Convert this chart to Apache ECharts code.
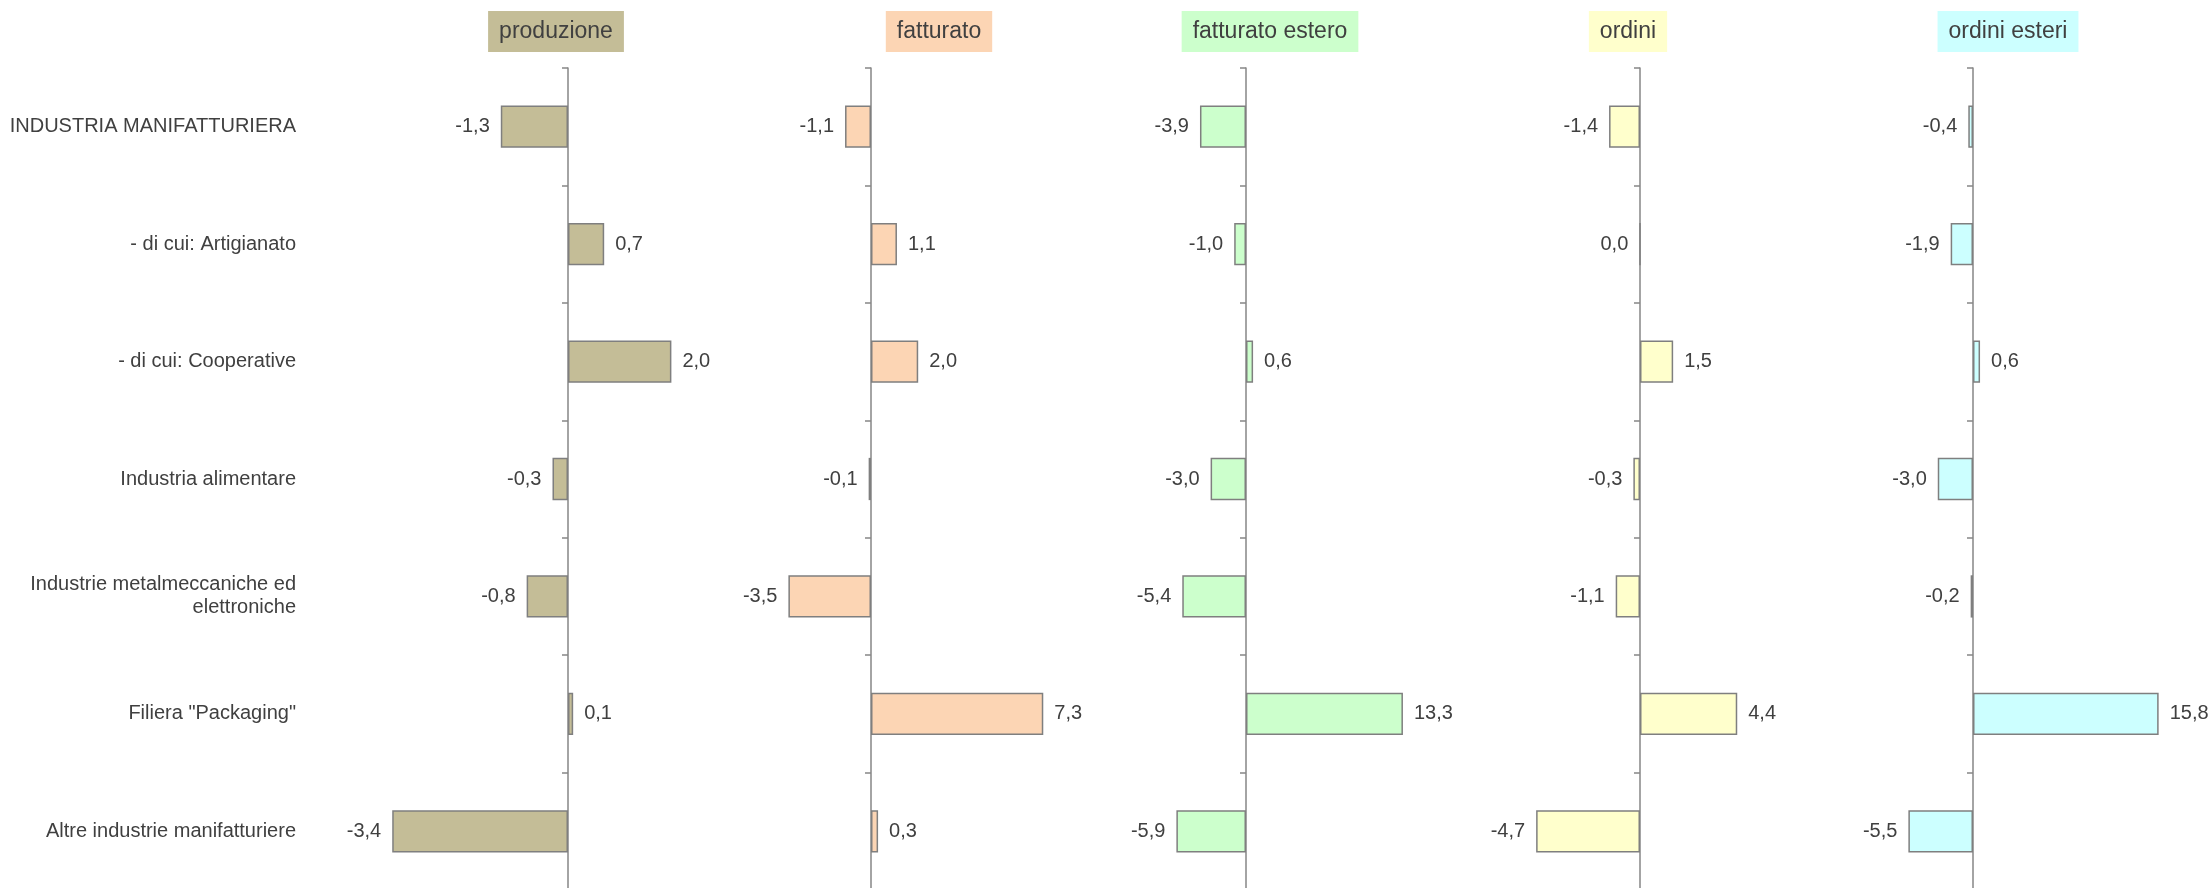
<!DOCTYPE html>
<html>
<head>
<meta charset="utf-8">
<script src="https://cdn.jsdelivr.net/npm/echarts/dist/echarts.min.js"></script>
<style>
  html, body { margin: 0; padding: 0; background: #fff; }
  #chart { width: 2211px; height: 888px; }
</style>
</head>
<body>
<div id="chart"></div>
<script>
// categorie (dall'alto in basso)
const categories = [
  'INDUSTRIA MANIFATTURIERA',
  '- di cui: Artigianato',
  '- di cui: Cooperative',
  'Industria alimentare',
  'Industrie metalmeccaniche ed\nelettroniche',
  'Filiera "Packaging"',
  'Altre industrie manifatturiere'
];

const panelTitles = ['produzione', 'fatturato', 'fatturato estero', 'ordini', 'ordini esteri'];

const produzione = [-1.3, 0.7, 2.0, -0.3, -0.8, 0.1, -3.4];
const fatturato = [-1.1, 1.1, 2.0, -0.1, -3.5, 7.3, 0.3];
const fatturatoEstero = [-3.9, -1.0, 0.6, -3.0, -5.4, 13.3, -5.9];
const ordini = [-1.4, 0.0, 1.5, -0.3, -1.1, 4.4, -4.7];
const ordiniEsteri = [-0.4, -1.9, 0.6, -3.0, -0.2, 15.8, -5.5];

const seriesData = [produzione, fatturato, fatturatoEstero, ordini, ordiniEsteri];

// layout dei pannelli: posizione dello zero, px per unita', range asse
const colors = ['#C4BD97', '#FCD5B4', '#CCFFCC', '#FFFFCC', '#CCFFFF'];
const zeroX = [568, 871, 1246, 1640, 1973];
const pxPerUnit = [51.7, 23.6, 11.8, 22.1, 11.75];
const ranges = [[-4, 4], [-8, 8], [-16, 16], [-8, 8], [-16, 16]];
const titleX = [545, 928, 1259, 1617, 1997];
const labelRight = 296; // bordo destro delle etichette di categoria

const font = 'Liberation Sans, Arial, sans-serif';
const textColor = '#404040';
const axisColor = '#868686';

const myChart = echarts.init(document.getElementById('chart'));

const grids = [];
const xAxes = [];
const yAxes = [];
const series = [];
const titles = [];

for (let i = 0; i < seriesData.length; i++) {
  const min = ranges[i][0];
  const max = ranges[i][1];
  const left = zeroX[i] + min * pxPerUnit[i];
  grids.push({
    left: left,
    width: (max - min) * pxPerUnit[i],
    top: 68,
    height: 822,
    containLabel: false,
    outerBoundsMode: 'none'
  });
  xAxes.push({
    type: 'value',
    gridIndex: i,
    min: min,
    max: max,
    show: false,
    splitLine: { show: false }
  });
  yAxes.push({
    type: 'category',
    gridIndex: i,
    inverse: true,
    data: categories,
    axisLine: { onZero: true, lineStyle: { color: axisColor, width: 1.5 } },
    axisTick: { show: true, length: 6, lineStyle: { color: axisColor, width: 1.5 } },
    axisLabel: {
      show: i === 0,
      margin: left - labelRight,
      color: textColor,
      fontSize: 20,
      fontFamily: font,
      lineHeight: 23,
      align: 'right'
    }
  });
  series.push({
    type: 'bar',
    xAxisIndex: i,
    yAxisIndex: i,
    barWidth: '36%',
    itemStyle: {
      color: colors[i],
      borderColor: '#7F7F7F',
      borderWidth: 1.5
    },
    label: {
      show: true,
      color: textColor,
      fontSize: 20,
      fontFamily: font,
      distance: 11,
      formatter: (p) => p.value.toFixed(1).replace('.', ',')
    },
    data: seriesData[i].map((v) => ({
      value: v,
      label: { position: v <= 0 ? 'left' : 'right' }
    }))
  });
  titles.push({
    text: panelTitles[i],
    left: titleX[i],
    top: 11,
    textAlign: 'center',
    backgroundColor: colors[i],
    padding: [9, 11],
    textStyle: {
      color: textColor,
      fontSize: 23,
      fontWeight: 'normal',
      fontFamily: font
    }
  });
}

myChart.setOption({
  animation: false,
  title: titles,
  grid: grids,
  xAxis: xAxes,
  yAxis: yAxes,
  series: series
});
</script>
</body>
</html>
